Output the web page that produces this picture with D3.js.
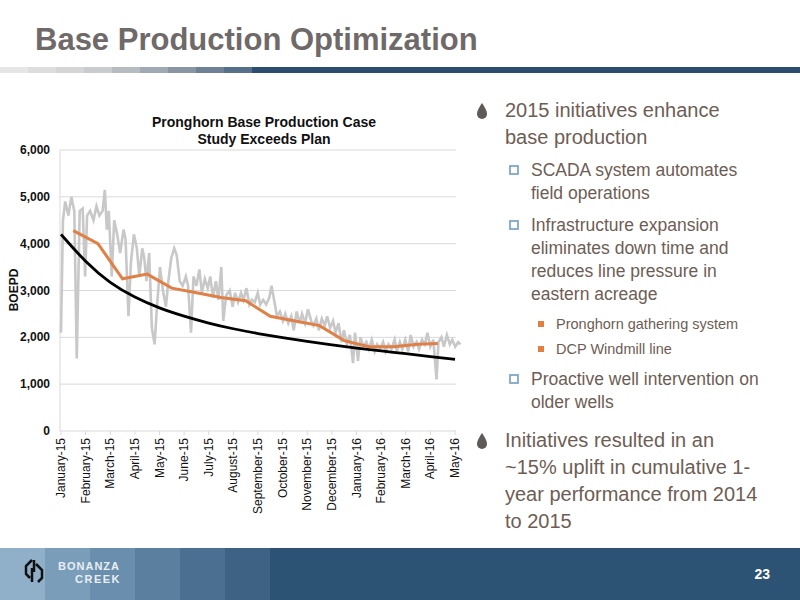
<!DOCTYPE html>
<html>
<head>
<meta charset="utf-8">
<script src="https://cdn.jsdelivr.net/npm/d3@7"></script>
<style>
  body { margin: 0; background: #fff; }
  svg { font-family: "Liberation Sans", Arial, sans-serif; }
</style>
</head>
<body>
<div id="container"></div>
<script>
// category ticks
const months = ['January-15', 'February-15', 'March-15', 'April-15', 'May-15', 'June-15', 'July-15',
  'August-15', 'September-15', 'October-15', 'November-15', 'December-15', 'January-16',
  'February-16', 'March-16', 'April-16', 'May-16']
const yTicks = [0, 1000, 2000, 3000, 4000, 5000, 6000]

// daily actuals (sampled): [months from January-15, BOEPD]
const actual = [
  [0.00, 2100], [0.08, 4500], [0.17, 4900], [0.30, 4600], [0.42, 5000], [0.54, 4700], [0.64, 1550],
  [0.76, 4700], [0.88, 4750], [0.98, 3300], [1.06, 4600], [1.18, 4700], [1.32, 4500], [1.44, 4800],
  [1.56, 4600], [1.69, 4700], [1.78, 5150], [1.86, 4300], [1.94, 4700], [2.06, 3300], [2.16, 4500],
  [2.28, 4200], [2.40, 3800], [2.54, 4300], [2.62, 4100], [2.74, 2450], [2.84, 3600], [2.96, 4200],
  [3.08, 3900], [3.18, 3300], [3.30, 3900], [3.38, 3700], [3.47, 3200], [3.58, 3800], [3.69, 2200],
  [3.80, 1850], [3.89, 2600], [4.02, 3500], [4.14, 3000], [4.26, 2650], [4.36, 3200], [4.48, 3700],
  [4.60, 3900], [4.70, 3750], [4.82, 3200], [4.94, 3100], [5.07, 3300], [5.16, 3100], [5.28, 2100],
  [5.38, 3300], [5.50, 3100], [5.62, 3450], [5.72, 2950], [5.84, 3250], [5.96, 3050], [6.06, 3300],
  [6.17, 2850], [6.29, 3200], [6.39, 2800], [6.51, 3500], [6.59, 2350], [6.71, 2900], [6.85, 3000],
  [6.97, 2650], [7.07, 2950], [7.19, 2750], [7.31, 2950], [7.41, 2800], [7.53, 3050], [7.65, 2700],
  [7.75, 2800], [7.87, 2750], [7.99, 2950], [8.09, 2700], [8.21, 2800], [8.33, 2700], [8.46, 2850],
  [8.55, 3100], [8.67, 2750], [8.77, 2450], [8.89, 2550], [9.01, 2350], [9.11, 2500], [9.23, 2300],
  [9.35, 2450], [9.45, 2150], [9.57, 2550], [9.69, 2300], [9.79, 2500], [9.91, 2300], [10.03, 2600],
  [10.16, 2350], [10.25, 2250], [10.37, 2400], [10.47, 2150], [10.59, 2400], [10.71, 2250], [10.81, 2450],
  [10.93, 2200], [11.05, 2350], [11.15, 2100], [11.27, 2300], [11.39, 1900], [11.49, 2150], [11.61, 1850],
  [11.73, 2050], [11.86, 1450], [11.94, 2100], [12.06, 1500], [12.16, 2000], [12.28, 1800], [12.40, 1900],
  [12.50, 1750], [12.62, 1950], [12.74, 1700], [12.84, 1850], [12.96, 1750], [13.08, 1900], [13.18, 1700],
  [13.30, 1850], [13.42, 1750], [13.55, 1950], [13.64, 1700], [13.76, 1900], [13.86, 1750], [13.98, 1950],
  [14.10, 1700], [14.20, 2050], [14.32, 1800], [14.44, 1900], [14.54, 1750], [14.66, 1950], [14.78, 1850],
  [14.88, 2100], [15.00, 1800], [15.12, 1950], [15.25, 1100], [15.33, 1900], [15.45, 2000], [15.55, 1800],
  [15.67, 2050], [15.79, 1850], [15.89, 1950], [16.01, 1800], [16.13, 1900], [16.22, 1850]
]
// monthly average (mid-month points)
const monthlyIdx = [0.5, 1.5, 2.5, 3.5, 4.5, 5.5, 6.5, 7.5, 8.5, 9.5, 10.5, 11.5, 12.5, 13.5, 14.5, 15.3]
const monthlyVal = [4280, 4000, 3250, 3350, 3050, 2950, 2850, 2780, 2450, 2350, 2250, 1930, 1800, 1800, 1850, 1870]
// plan decline curve
const planVal = [4200, 3600, 3150, 2850, 2620, 2450, 2300, 2180, 2080, 1990, 1910, 1840, 1770, 1710, 1650, 1590, 1530]

const svg = d3.select('#container').append('svg').attr('width', 800).attr('height', 600)

// header
svg.append('text').attr('x', 35).attr('y', 50).text('Base Production Optimization')
  .attr('font-family', '"Liberation Sans Narrow", "Liberation Sans", sans-serif')
  .attr('font-size', 31).attr('font-weight', 'bold').attr('fill', '#6f6969')
const topBand = ['#e6e6e6', '#dddddd', '#d5d5d5', '#c9ccce', '#b6bcc2', '#a0aab4', '#8995a3', '#6f8196', '#57708a', '#2a4d70']
topBand.forEach((c, i) => {
  svg.append('rect').attr('x', i * 28).attr('y', 67).attr('width', i === 9 ? 800 : 29).attr('height', 6).attr('fill', c)
})

// footer
const footBand = ['#8fb0c8', '#7a9dba', '#6a8eae', '#5a7f9f', '#4b6f90', '#3e6283', '#2d5374']
footBand.forEach((c, i) => {
  svg.append('rect').attr('x', i * 45).attr('y', 548).attr('width', i === 6 ? 800 : 46).attr('height', 52).attr('fill', c)
})
svg.append('text').attr('x', 770).attr('y', 579).attr('text-anchor', 'end').text('23')
  .attr('fill', '#fff').attr('font-size', 14).attr('font-weight', 'bold')
svg.append('path').attr('d', 'M30,578 L26,574 L26,566 L32,560 M34,560 L34,572 M38,582 L42,578 L42,570 L36,564 M32,568 L32,582')
  .attr('stroke', '#111').attr('stroke-width', 2.5).attr('fill', 'none')
svg.append('text').attr('x', 58).attr('y', 570).text('BONANZA').attr('font-size', 11)
  .attr('fill', '#e8eef3').attr('font-weight', 'bold').attr('letter-spacing', 1)
svg.append('text').attr('x', 75).attr('y', 583).text('CREEK').attr('font-size', 11)
  .attr('fill', '#e8eef3').attr('font-weight', 'bold').attr('letter-spacing', 1.5)

// chart
const x = d3.scalePoint().domain(months).range([61, 455])
const step = x.step()
const xm = m => 61 + m * step
const y = d3.scaleLinear().domain([0, 6000]).range([431, 150])

svg.append('g').selectAll('line').data(yTicks.slice(1)).enter().append('line')
  .attr('x1', 60).attr('x2', 456).attr('y1', d => y(d)).attr('y2', d => y(d))
  .attr('stroke', '#d9d9d9')
svg.append('g').selectAll('text').data(yTicks).enter().append('text')
  .attr('x', 50).attr('y', d => y(d) + 4).attr('text-anchor', 'end').text(d3.format(','))
  .attr('font-size', 12).attr('font-weight', 'bold').attr('fill', '#111')
svg.append('line').attr('x1', 60).attr('x2', 60).attr('y1', 150).attr('y2', 431).attr('stroke', '#d9d9d9')
svg.append('line').attr('x1', 60).attr('x2', 456).attr('y1', 431).attr('y2', 431).attr('stroke', '#d9d9d9')
svg.append('g').selectAll('line').data(months).enter().append('line')
  .attr('x1', d => x(d)).attr('x2', d => x(d)).attr('y1', 431).attr('y2', 435).attr('stroke', '#d9d9d9')
svg.append('g').selectAll('text').data(months).enter().append('text')
  .attr('transform', d => `translate(${x(d) + 4},438) rotate(-90)`)
  .attr('text-anchor', 'end').text(d => d).attr('font-size', 12).attr('fill', '#111')
svg.append('text').attr('transform', 'translate(18,290) rotate(-90)').attr('text-anchor', 'middle')
  .text('BOEPD').attr('font-size', 12).attr('font-weight', 'bold').attr('fill', '#111')
const ct = svg.append('text').attr('text-anchor', 'middle').attr('font-size', 14).attr('font-weight', 'bold').attr('fill', '#111')
ct.append('tspan').attr('x', 264).attr('y', 127).text('Pronghorn Base Production Case')
ct.append('tspan').attr('x', 264).attr('y', 144).text('Study Exceeds Plan')

svg.append('path').datum(actual)
  .attr('d', d3.line().x(d => xm(d[0])).y(d => y(d[1])))
  .attr('fill', 'none').attr('stroke', '#c8c8c8').attr('stroke-width', 2.6)
svg.append('path').datum(planVal)
  .attr('d', d3.line().x((d, i) => xm(i)).y(d => y(d)).curve(d3.curveBasis))
  .attr('fill', 'none').attr('stroke', '#000').attr('stroke-width', 2.8)
svg.append('path').datum(monthlyVal)
  .attr('d', d3.line().x((d, i) => xm(monthlyIdx[i])).y(d => y(d)))
  .attr('fill', 'none').attr('stroke', '#e07f46').attr('stroke-width', 3)

// bullets
const txt = '#6e5d55'
const items = [
  { lv: 0, lines: ['2015 initiatives enhance', 'base production'], y: 117 },
  { lv: 1, lines: ['SCADA system automates', 'field operations'], y: 176 },
  { lv: 1, lines: ['Infrastructure expansion', 'eliminates down time and', 'reduces line pressure in', 'eastern acreage'], y: 231 },
  { lv: 2, lines: ['Pronghorn gathering system'], y: 329 },
  { lv: 2, lines: ['DCP Windmill line'], y: 354 },
  { lv: 1, lines: ['Proactive well intervention on', 'older wells'], y: 385 },
  { lv: 0, lines: ['Initiatives resulted in an', '~15% uplift in cumulative 1-', 'year performance from 2014', 'to 2015'], y: 447 }
]
const lvX = [505, 531, 556], lvF = [20, 17.5, 14.5], lvH = [27, 23, 23]
items.forEach(it => {
  const t = svg.append('text').attr('font-size', lvF[it.lv]).attr('fill', txt)
  it.lines.forEach((l, i) => t.append('tspan').attr('x', lvX[it.lv]).attr('y', it.y + i * lvH[it.lv]).text(l))
  if (it.lv === 0) {
    svg.append('path').attr('d', `M482,${it.y - 14} C478,${it.y - 8} 477,${it.y - 5} 477,${it.y - 3} A5,5 0 0 0 487,${it.y - 3} C487,${it.y - 5} 486,${it.y - 8} 482,${it.y - 14}Z`)
      .attr('fill', '#5f5a58')
  } else if (it.lv === 1) {
    svg.append('rect').attr('x', 510).attr('y', it.y - 10).attr('width', 8).attr('height', 8)
      .attr('fill', 'none').attr('stroke', '#7fa7c9').attr('stroke-width', 1.8)
  } else {
    svg.append('rect').attr('x', 538).attr('y', it.y - 8).attr('width', 6).attr('height', 6).attr('fill', '#e37d40')
  }
})
</script>
</body>
</html>
